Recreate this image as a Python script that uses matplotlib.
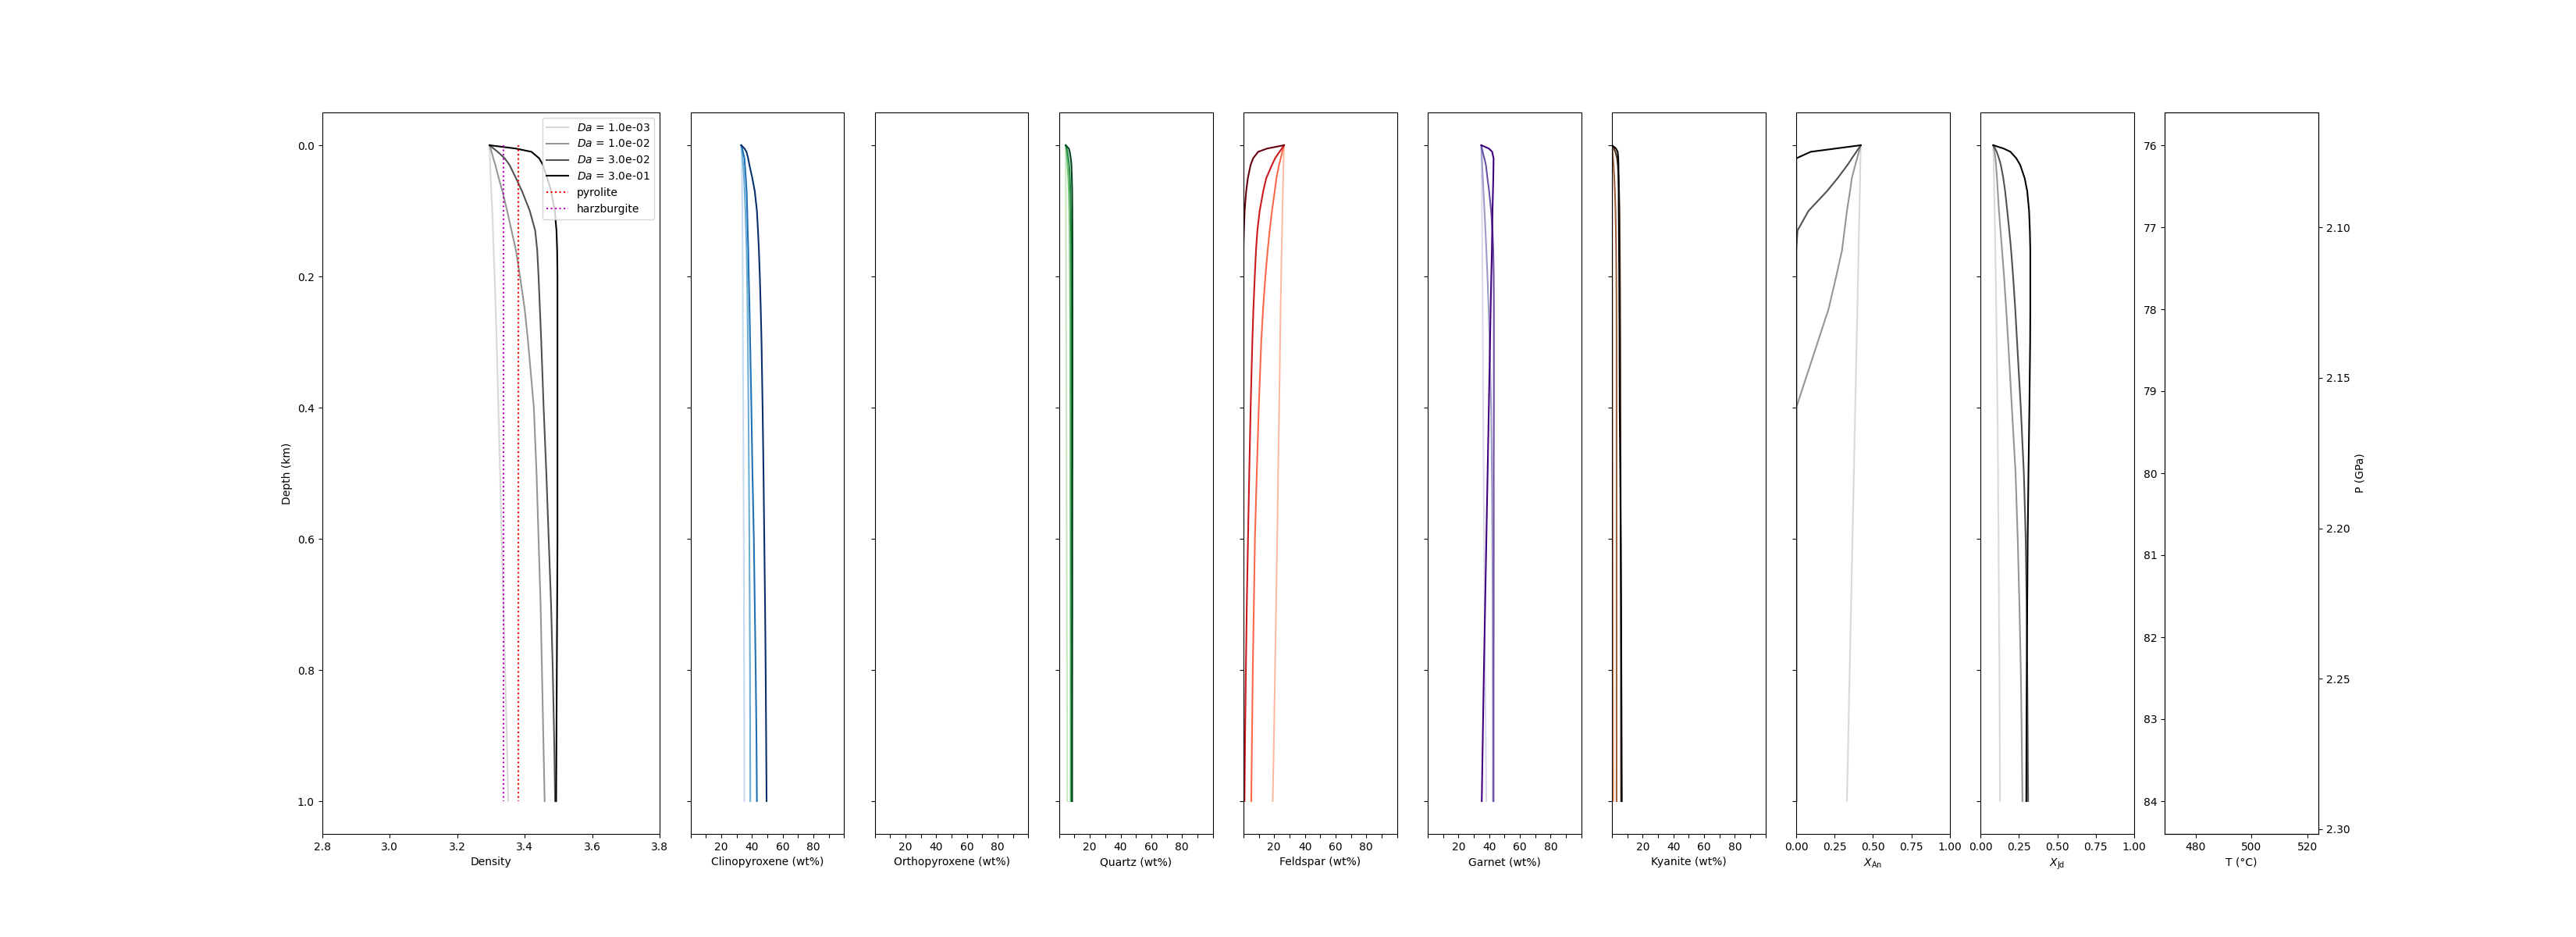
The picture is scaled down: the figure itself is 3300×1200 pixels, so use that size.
import numpy as np
import matplotlib
matplotlib.use("Agg")
import matplotlib.pyplot as plt
from matplotlib.gridspec import GridSpec

# -----------------------------
# Data
# -----------------------------
da_values = [1e-3, 1e-2, 3e-2, 3e-1]

depth = [0, 0.005, 0.01, 0.02, 0.03, 0.05, 0.07, 0.1, 0.13, 0.16,
         0.2, 0.25, 0.3, 0.4, 0.5, 0.6, 0.7, 0.8, 0.9, 1.0]

density = [
    [3.296, 3.296, 3.297, 3.297, 3.298, 3.299, 3.301, 3.304, 3.306, 3.308,
     3.311, 3.314, 3.317, 3.322, 3.327, 3.332, 3.337, 3.342, 3.347, 3.351],
    [3.296, 3.299, 3.302, 3.307, 3.313, 3.323, 3.334, 3.348, 3.361, 3.374,
     3.386, 3.400, 3.410, 3.427, 3.435, 3.441, 3.447, 3.451, 3.455, 3.459],
    [3.296, 3.308, 3.320, 3.341, 3.355, 3.374, 3.392, 3.415, 3.431, 3.437,
     3.441, 3.445, 3.449, 3.456, 3.464, 3.471, 3.478, 3.483, 3.487, 3.490],
    [3.296, 3.373, 3.420, 3.443, 3.454, 3.467, 3.478, 3.489, 3.494, 3.496,
     3.497, 3.497, 3.497, 3.497, 3.497, 3.497, 3.496, 3.495, 3.494, 3.493],
]
pyrolite_density = 3.380
harzburgite_density = 3.338

clinopyroxene = [
    [33.0, 33.1, 33.2, 33.3, 33.4, 33.5, 33.6, 33.7, 33.8, 33.85,
     33.95, 34.0, 34.1, 34.3, 34.45, 34.6, 34.75, 34.85, 34.95, 35.0],
    [33.0, 33.3, 33.5, 33.9, 34.3, 34.8, 35.2, 35.7, 36.1, 36.5,
     36.8, 37.1, 37.3, 37.7, 38.0, 38.3, 38.5, 38.7, 38.8, 38.9],
    [33.0, 33.6, 34.1, 35.1, 35.4, 36.0, 36.5, 36.9, 37.2, 37.6,
     37.9, 38.4, 38.8, 39.6, 40.3, 41.2, 41.8, 42.4, 42.9, 43.2],
    [33.0, 35.1, 36.4, 37.5, 38.3, 40.2, 41.8, 43.2, 43.9, 44.5,
     45.1, 45.7, 46.2, 46.9, 47.5, 48.0, 48.5, 48.9, 49.2, 49.5],
]

orthopyroxene = []  # empty panel in the reference

quartz = [
    [4.3, 4.3, 4.3, 4.32, 4.33, 4.35, 4.37, 4.4, 4.43, 4.46,
     4.5, 4.55, 4.6, 4.7, 4.8, 4.9, 5.0, 5.1, 5.2, 5.3],
    [4.3, 4.5, 4.7, 5.1, 5.4, 6.0, 6.3, 6.6, 6.8, 6.9,
     7.0, 7.1, 7.15, 7.25, 7.3, 7.35, 7.4, 7.45, 7.5, 7.5],
    [4.3, 4.9, 5.4, 6.0, 6.5, 7.0, 7.3, 7.6, 7.75, 7.85,
     7.9, 7.95, 8.0, 8.0, 8.0, 8.0, 8.0, 8.0, 8.0, 8.0],
    [4.3, 6.3, 6.9, 7.6, 8.0, 8.3, 8.5, 8.6, 8.65, 8.7,
     8.7, 8.7, 8.7, 8.7, 8.65, 8.6, 8.6, 8.55, 8.5, 8.5],
]

feldspar = [
    [26.4, 26.35, 26.3, 26.2, 26.1, 25.9, 25.7, 25.4, 25.2, 24.9,
     24.6, 24.2, 23.9, 23.3, 22.6, 22.0, 21.3, 20.6, 19.9, 19.1],
    [26.4, 25.9, 25.3, 24.3, 23.2, 21.5, 20.4, 18.6, 17.1, 15.8,
     14.3, 12.8, 11.6, 10.0, 8.7, 7.5, 6.8, 6.1, 5.6, 5.1],
    [26.4, 25.0, 23.5, 20.6, 18.6, 14.9, 12.9, 10.6, 9.1, 8.2,
     7.4, 6.5, 5.8, 4.7, 3.8, 3.0, 2.2, 1.6, 1.1, 0.7],
    [26.4, 15.5, 9.6, 6.3, 4.7, 2.9, 1.8, 0.8, 0.3, 0.0,
     0.0, 0.0, 0.0, 0.0, 0.0, 0.0, 0.0, 0.0, 0.0, 0.0],
]

garnet = [
    [34.9, 34.9, 34.95, 35.0, 35.05, 35.15, 35.25, 35.35, 35.45, 35.55,
     35.65, 35.8, 35.9, 36.1, 36.4, 36.7, 37.0, 37.4, 37.8, 38.2],
    [34.9, 35.0, 35.1, 35.3, 35.5, 35.9, 36.3, 37.0, 37.6, 38.2,
     38.9, 39.7, 40.3, 41.3, 41.8, 42.1, 42.3, 42.4, 42.5, 42.5],
    [34.9, 35.3, 35.8, 36.9, 37.9, 38.9, 40.0, 41.3, 42.2, 42.7,
     43.0, 43.1, 43.1, 43.1, 43.0, 43.0, 43.0, 42.9, 42.9, 42.9],
    [34.9, 39.8, 42.0, 42.9, 42.85, 42.7, 42.5, 42.2, 42.0, 41.8,
     41.4, 41.0, 40.6, 39.8, 39.0, 38.2, 37.4, 36.6, 35.9, 35.2],
]

kyanite = [
    [0.0, 0.0, 0.0, 0.02, 0.03, 0.04, 0.06, 0.09, 0.11, 0.14,
     0.17, 0.21, 0.26, 0.34, 0.43, 0.51, 0.6, 0.68, 0.77, 0.85],
    [0.0, 0.2, 0.4, 0.7, 1.0, 1.5, 1.9, 2.3, 2.55, 2.7,
     2.85, 2.95, 3.0, 3.0, 3.0, 3.0, 3.0, 3.0, 3.0, 3.0],
    [0.0, 1.2, 2.2, 3.3, 3.8, 4.3, 4.6, 4.9, 5.0, 5.1,
     5.2, 5.3, 5.4, 5.5, 5.6, 5.7, 5.8, 5.85, 5.9, 5.95],
    [0.0, 2.6, 3.7, 4.1, 4.2, 4.3, 4.35, 4.4, 4.5, 4.6,
     4.7, 4.8, 4.9, 5.0, 5.4, 5.7, 5.95, 6.1, 6.25, 6.4],
]

x_an = [
    [0.420, 0.420, 0.419, 0.418, 0.417, 0.416, 0.414, 0.411, 0.408, 0.406,
     0.402, 0.398, 0.393, 0.384, 0.375, 0.366, 0.357, 0.348, 0.339, 0.330],
    [0.420, 0.414, 0.408, 0.396, 0.384, 0.362, 0.350, 0.330, 0.314, 0.298,
     0.260, 0.210, 0.140, 0.0, 0.0, 0.0, 0.0, 0.0, 0.0, 0.0],
    [0.420, 0.406, 0.391, 0.362, 0.334, 0.270, 0.200, 0.080, 0.008, 0.0,
     0.0, 0.0, 0.0, 0.0, 0.0, 0.0, 0.0, 0.0, 0.0, 0.0],
    [0.420, 0.257, 0.094, 0.0, 0.0, 0.0, 0.0, 0.0, 0.0, 0.0,
     0.0, 0.0, 0.0, 0.0, 0.0, 0.0, 0.0, 0.0, 0.0, 0.0],
]

x_jd = [
    [0.083, 0.083, 0.084, 0.085, 0.086, 0.088, 0.089, 0.092, 0.094, 0.096,
     0.099, 0.102, 0.105, 0.110, 0.114, 0.117, 0.120, 0.123, 0.125, 0.127],
    [0.083, 0.087, 0.091, 0.097, 0.101, 0.107, 0.112, 0.120, 0.130, 0.140,
     0.153, 0.167, 0.180, 0.204, 0.228, 0.242, 0.253, 0.262, 0.268, 0.273],
    [0.083, 0.095, 0.105, 0.120, 0.132, 0.148, 0.160, 0.174, 0.187, 0.199,
     0.212, 0.226, 0.238, 0.262, 0.282, 0.294, 0.300, 0.304, 0.307, 0.310],
    [0.083, 0.150, 0.195, 0.233, 0.258, 0.287, 0.304, 0.316, 0.321, 0.324,
     0.324, 0.324, 0.323, 0.318, 0.312, 0.307, 0.304, 0.301, 0.299, 0.298],
]

# temperature panel (empty in the reference, only its axes)
depth_km_ticks = [76, 77, 78, 79, 80, 81, 82, 83, 84]
depth_km_lim = (84.4, 75.6)
pressure_lim = (2.3016, 2.0618)
T_ticks = [480, 500, 520]
T_lim = (469, 524)

# -----------------------------
# Plot
# -----------------------------
shades = [0.25, 0.5, 0.75, 1.0]

fig = plt.figure(figsize=(33, 12), dpi=100)
gs = GridSpec(1, 11, figure=fig, left=0.125, right=0.9, bottom=0.11, top=0.88, wspace=0.2)

ax_rho = fig.add_subplot(gs[0, 0:2])
greys = plt.get_cmap("Greys")
for i, da in enumerate(da_values):
    ax_rho.plot(density[i], depth, color=greys(shades[i]),
                label=r"$Da$ = {:.1e}".format(da))
ax_rho.plot([pyrolite_density, pyrolite_density], [0, 1], "r:", label="pyrolite")
ax_rho.plot([harzburgite_density, harzburgite_density], [0, 1], "m:", label="harzburgite")
ax_rho.set_xlim(2.8, 3.8)
ax_rho.set_ylim(1.05, -0.05)
ax_rho.set_xlabel("Density")
ax_rho.set_ylabel("Depth (km)")
ax_rho.legend(loc="upper right")

wt_panels = [
    ("Clinopyroxene (wt%)", clinopyroxene, "Blues"),
    ("Orthopyroxene (wt%)", orthopyroxene, "Oranges"),
    ("Quartz (wt%)", quartz, "Greens"),
    ("Feldspar (wt%)", feldspar, "Reds"),
    ("Garnet (wt%)", garnet, "Purples"),
    ("Kyanite (wt%)", kyanite, "copper_r"),
]
wt_ticks = np.arange(0, 101, 10)
wt_labels = ["" if t not in (20, 40, 60, 80) else str(t) for t in wt_ticks]

col = 2
for name, series, cmap_name in wt_panels:
    ax = fig.add_subplot(gs[0, col], sharey=ax_rho)
    cmap = plt.get_cmap(cmap_name)
    for i, vals in enumerate(series):
        ax.plot(vals, depth, color=cmap(shades[i]))
    ax.set_xlim(0, 100)
    ax.set_xticks(wt_ticks)
    ax.set_xticklabels(wt_labels)
    ax.set_xlabel(name)
    ax.tick_params(labelleft=False)
    col += 1

for label, series in [(r"$X_{\rm An}$", x_an), (r"$X_{\rm Jd}$", x_jd)]:
    ax = fig.add_subplot(gs[0, col], sharey=ax_rho)
    for i, vals in enumerate(series):
        ax.plot(vals, depth, color=greys(shades[i]))
    ax.set_xlim(0, 1)
    ax.set_xticks([0, 0.25, 0.5, 0.75, 1.0])
    ax.set_xlabel(label)
    ax.tick_params(labelleft=False)
    col += 1

ax_T = fig.add_subplot(gs[0, col])
ax_T.set_xlim(*T_lim)
ax_T.set_xticks(T_ticks)
ax_T.set_ylim(*depth_km_lim)
ax_T.set_yticks(depth_km_ticks)
ax_T.set_xlabel("T (°C)")
ax_P = ax_T.twinx()
ax_P.set_ylim(*pressure_lim)
ax_P.set_yticks([2.10, 2.15, 2.20, 2.25, 2.30])
ax_P.set_ylabel("P (GPa)")

plt.savefig("out.png", dpi=100)
